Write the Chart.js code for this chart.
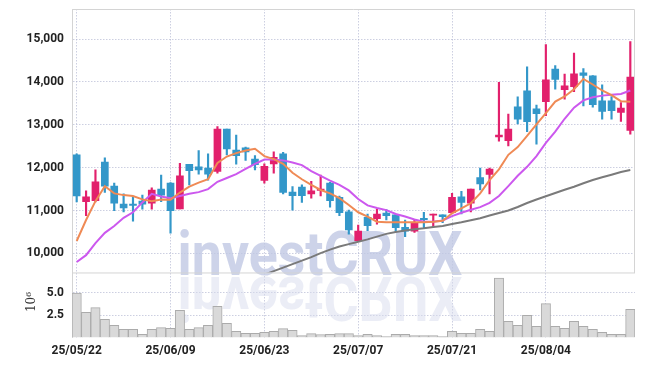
<!DOCTYPE html>
<html>
<head>
<meta charset="utf-8">
<script src="https://cdn.jsdelivr.net/npm/chart.js@4.4.1/dist/chart.umd.min.js"></script>
<style>
  html, body { margin: 0; padding: 0; background: #fff; }
  #wrap { width: 645px; height: 366px; }
</style>
</head>
<body>
<div id="wrap"><canvas id="chart"></canvas></div>
<script>
// trading days shown (yy/mm/dd)
const dates = [
    '25/05/22', '25/05/23', '25/05/26', '25/05/27', '25/05/28', '25/05/29', '25/05/30', '25/06/02', '25/06/04', '25/06/05',
    '25/06/09', '25/06/10', '25/06/11', '25/06/12', '25/06/13', '25/06/16', '25/06/17', '25/06/18', '25/06/19', '25/06/20',
    '25/06/23', '25/06/24', '25/06/25', '25/06/26', '25/06/27', '25/06/30', '25/07/01', '25/07/02', '25/07/03', '25/07/04',
    '25/07/07', '25/07/08', '25/07/09', '25/07/10', '25/07/11', '25/07/14', '25/07/15', '25/07/16', '25/07/17', '25/07/18',
    '25/07/21', '25/07/22', '25/07/23', '25/07/24', '25/07/25', '25/07/28', '25/07/29', '25/07/30', '25/07/31', '25/08/01',
    '25/08/04', '25/08/05', '25/08/06', '25/08/07', '25/08/08', '25/08/11', '25/08/12', '25/08/13', '25/08/14', '25/08/18'
];
const dateTicks = ['25/05/22', '25/06/09', '25/06/23', '25/07/07', '25/07/21', '25/08/04'];

const opens = [
    12300, 11210, 11230, 12130, 11570, 11150, 11150, 11220, 11170, 11500,
    11640, 11040, 12080, 12020, 11990, 11910, 12900, 12410, 12460, 12200,
    11700, 12090, 12320, 11430, 11550, 11390, 11470, 11640, 11310, 10970,
    10300, 10840, 10810, 10940, 10900, 10610, 10520, 10820, 10890, 10900,
    10950, 11320, 11170, 11770, 11840, 12720, 12630, 13420, 13790, 13370,
    13540, 14300, 13820, 13890, 14210, 14140, 13560, 13560, 13290, 12870
];
const highs = [
    12320, 11460, 11950, 12230, 11640, 11390, 11320, 11360, 11530, 11830,
    11650, 12100, 12080, 12400, 12320, 12960, 12900, 12760, 12480, 12280,
    12090, 12370, 12360, 11560, 11600, 11680, 11830, 11660, 11340, 11010,
    10660, 10920, 11030, 11020, 10920, 10780, 10780, 10960, 10920, 10900,
    11400, 11450, 11500, 11990, 11990, 13990, 13250, 13650, 14350, 13460,
    14870, 14380, 14180, 14670, 14310, 14150, 13930, 13660, 13520, 14940
];
const lows = [
    11200, 10880, 11200, 11420, 11000, 10970, 10750, 11030, 11030, 11210,
    10470, 11040, 11600, 11850, 11710, 11870, 12300, 12080, 12170, 11950,
    11640, 11870, 11390, 11010, 11190, 11290, 11340, 11080, 10880, 10450,
    10290, 10530, 10680, 10780, 10510, 10390, 10490, 10580, 10620, 10720,
    10940, 10920, 10970, 11480, 11390, 12620, 12510, 13020, 12840, 12550,
    13210, 13830, 13600, 13770, 13440, 13410, 13130, 13130, 13080, 12780
];
const closes = [
    11340, 11320, 11670, 11570, 11170, 11060, 11120, 11150, 11480, 11360,
    11000, 11810, 11930, 11950, 11850, 12900, 12440, 12280, 12370, 12070,
    12030, 12240, 11420, 11350, 11350, 11460, 11500, 11230, 10950, 10550,
    10520, 10650, 10920, 10880, 10600, 10520, 10720, 10790, 10920, 10860,
    11310, 11190, 11500, 11620, 11970, 12760, 12900, 13130, 13070, 13260,
    14050, 14060, 13910, 14190, 14150, 13470, 13310, 13330, 13390, 14110
];

// moving average lines
const maShort = [
    10290, 10780, 11220, 11570, 11400, 11360, 11340, 11260, 11220, 11260,
    11250, 11420, 11560, 11650, 11730, 12110, 12260, 12340, 12400, 12440,
    12270, 12200, 12090, 11880, 11730, 11600, 11480, 11400, 11290, 11130,
    10960, 10860, 10740, 10725, 10725, 10725, 10725, 10725, 10740, 10760,
    10935, 11050, 11170, 11400, 11710, 11960, 12300, 12480, 12740, 13010,
    13270, 13540, 13660, 13830, 14070, 13940, 13800, 13690, 13550, 13540
];
const maMid = [
    9800, 9960, 10240, 10480, 10640, 10830, 10960, 11190, 11390, 11330,
    11290, 11340, 11390, 11430, 11500, 11670, 11760, 11850, 11970, 12090,
    12190, 12190, 12170, 12120, 12060, 11920, 11810, 11700, 11600, 11470,
    11270, 11120, 11060, 11010, 10920, 10860, 10790, 10740, 10740, 10770,
    10870, 10950, 11020, 11080, 11180, 11340, 11570, 11810, 12020, 12270,
    12580, 12840, 13140, 13400, 13570, 13640, 13680, 13700, 13720, 13800
];
// the long average only comes into the panel around 25/06/23
const maLong = [
    null, null, null, null, null, null, null, null, null, null,
    null, null, null, null, null, null, null, null, null, 9420,
    9506, 9587, 9669, 9751, 9832, 9914, 10008, 10090, 10160, 10218,
    10272, 10328, 10393, 10456, 10499, 10534, 10562, 10585, 10615, 10639,
    10685, 10725, 10772, 10821, 10884, 10942, 11001, 11082, 11176, 11258,
    11333, 11410, 11484, 11554, 11636, 11713, 11776, 11837, 11900, 11947
];

// volume, in millions of shares
const volumes = [
    5.0, 2.84, 3.36, 2.06, 1.38, 0.93, 0.93, 0.37, 0.93, 1.12,
    1.05, 3.06, 0.93, 1.12, 1.38, 3.51, 1.61, 0.71, 0.49, 0.49,
    0.60, 0.71, 1.01, 0.82, 0.22, 0.45, 0.35, 0.37, 0.45, 0.45,
    0.22, 0.37, 0.22, 0.11, 0.37, 0.37, 0.22, 0.22, 0.22, 0.11,
    0.71, 0.49, 0.49, 0.93, 0.71, 6.66, 1.83, 1.38, 2.51, 1.27,
    3.81, 1.27, 1.05, 1.83, 1.27, 0.93, 0.60, 0.37, 0.37, 3.18
];

const priceTicks = [10000, 11000, 12000, 13000, 14000, 15000];
const volumeTicks = [2.5, 5.0];

const UP = '#e2206c';
const DOWN = '#3397c9';
const GRID = 'rgba(170, 175, 205, 0.6)';
const BORDER = '#d4d4d4';
const tickFont = { family: 'Roboto', size: 12, weight: 'bold' };

const candleColors = opens.map((o, i) => closes[i] >= o ? UP : DOWN);

// watermark + panel frame + volume unit label
const decorations = {
    id: 'decorations',
    beforeDatasetsDraw(chart) {
        const ctx = chart.ctx;
        const yScale = chart.scales.y;
        const base = yScale.bottom + 3;
        ctx.save();
        ctx.font = 'bold 61px Roboto';
        ctx.textAlign = 'center';
        ctx.textBaseline = 'alphabetic';
        ctx.translate(320, 0);
        ctx.scale(0.88, 1);
        ctx.fillStyle = 'rgba(192, 200, 228, 0.8)';
        ctx.fillText('investCRUX', 0, base);
        // mirrored copy under the baseline
        ctx.translate(0, base * 2 + 2);
        ctx.scale(1, -1);
        ctx.fillStyle = 'rgba(215, 220, 238, 0.5)';
        ctx.fillText('investCRUX', 0, base);
        ctx.restore();
    },
    afterDatasetsDraw(chart) {
        const ctx = chart.ctx;
        const area = chart.chartArea;
        const yScale = chart.scales.y;
        ctx.save();
        ctx.strokeStyle = BORDER;
        ctx.lineWidth = 1;
        ctx.beginPath();
        ctx.moveTo(area.left, yScale.top + 0.5);
        ctx.lineTo(area.right - 0.5, yScale.top + 0.5);
        ctx.lineTo(area.right - 0.5, yScale.bottom + 0.5);
        ctx.moveTo(area.left, yScale.bottom + 0.5);
        ctx.lineTo(area.right, yScale.bottom + 0.5);
        ctx.stroke();
        ctx.restore();
    },
    afterDraw(chart) {
        const ctx = chart.ctx;
        const vScale = chart.scales.yv;
        ctx.save();
        ctx.font = '12px "DejaVu Serif"';
        ctx.fillStyle = '#333';
        ctx.textAlign = 'center';
        ctx.textBaseline = 'middle';
        ctx.translate(32, (vScale.top + vScale.bottom) / 2 - 3);
        ctx.rotate(-Math.PI / 2);
        ctx.fillText('10\u2076', 0, 0);
        ctx.restore();
    }
};

// fixed axis width, no extra room for half tick labels
function fixAxis(scale) {
    scale.width = 72;
    scale.paddingTop = 0;
    scale.paddingBottom = 0;
}

new Chart(document.getElementById('chart'), {
    type: 'bar',
    data: {
        labels: dates,
        datasets: [
            {
                type: 'line',
                label: 'short',
                data: maShort,
                yAxisID: 'y',
                borderColor: '#ef8a55',
                borderWidth: 2,
                pointRadius: 0,
                tension: 0,
                order: 0
            },
            {
                type: 'line',
                label: 'mid',
                data: maMid,
                yAxisID: 'y',
                borderColor: '#cc58ee',
                borderWidth: 2,
                pointRadius: 0,
                tension: 0,
                order: 0
            },
            {
                type: 'line',
                label: 'long',
                data: maLong,
                yAxisID: 'y',
                borderColor: '#7a7a7a',
                borderWidth: 2,
                pointRadius: 0,
                tension: 0,
                order: 0
            },
            {
                label: 'body',
                data: opens.map((o, i) => [o, closes[i]]),
                yAxisID: 'y',
                backgroundColor: candleColors,
                borderWidth: 0,
                barThickness: 7,
                grouped: false,
                order: 1
            },
            {
                label: 'wick',
                data: lows.map((l, i) => [l, highs[i]]),
                yAxisID: 'y',
                backgroundColor: candleColors,
                borderWidth: 0,
                barThickness: 1.5,
                grouped: false,
                order: 2
            },
            {
                label: 'volume',
                data: volumes,
                yAxisID: 'yv',
                backgroundColor: '#d9d9d9',
                borderColor: '#ababab',
                borderWidth: 1,
                barPercentage: 1,
                categoryPercentage: 1,
                grouped: false,
                order: 3
            }
        ]
    },
    options: {
        responsive: true,
        maintainAspectRatio: false,
        animation: false,
        layout: { padding: { left: 0, top: 9, right: 10, bottom: 2 } },
        plugins: {
            legend: { display: false },
            tooltip: { enabled: false }
        },
        scales: {
            x: {
                type: 'category',
                offset: true,
                afterBuildTicks: (scale) => {
                    scale.ticks = dateTicks.map(d => ({ value: dates.indexOf(d) }));
                },
                grid: { offset: false, drawTicks: false, color: GRID },
                border: { display: false, dash: [1.5, 1.5] },
                ticks: { autoSkip: false, maxRotation: 0, padding: 6, color: '#222', font: tickFont }
            },
            yv: {
                type: 'linear',
                position: 'left',
                stack: 'panels',
                stackWeight: 65,
                min: 0,
                max: 7.3,
                afterBuildTicks: (scale) => {
                    scale.ticks = volumeTicks.map(v => ({ value: v }));
                },
                afterFit: fixAxis,
                grid: { drawTicks: false, color: GRID },
                border: { display: true, color: BORDER, dash: [1.5, 1.5] },
                ticks: {
                    padding: 8,
                    color: '#222',
                    font: tickFont,
                    callback: (v) => v.toFixed(1)
                }
            },
            y: {
                type: 'linear',
                position: 'left',
                stack: 'panels',
                stackWeight: 263,
                min: 9556,
                max: 15700,
                afterBuildTicks: (scale) => {
                    scale.ticks = priceTicks.map(v => ({ value: v }));
                },
                afterFit: fixAxis,
                grid: { drawTicks: false, color: GRID },
                border: { display: true, color: BORDER, dash: [1.5, 1.5] },
                ticks: {
                    padding: 8,
                    color: '#222',
                    font: tickFont,
                    callback: (v) => v.toLocaleString('en-US')
                }
            }
        }
    },
    plugins: [decorations]
});
</script>
</body>
</html>
